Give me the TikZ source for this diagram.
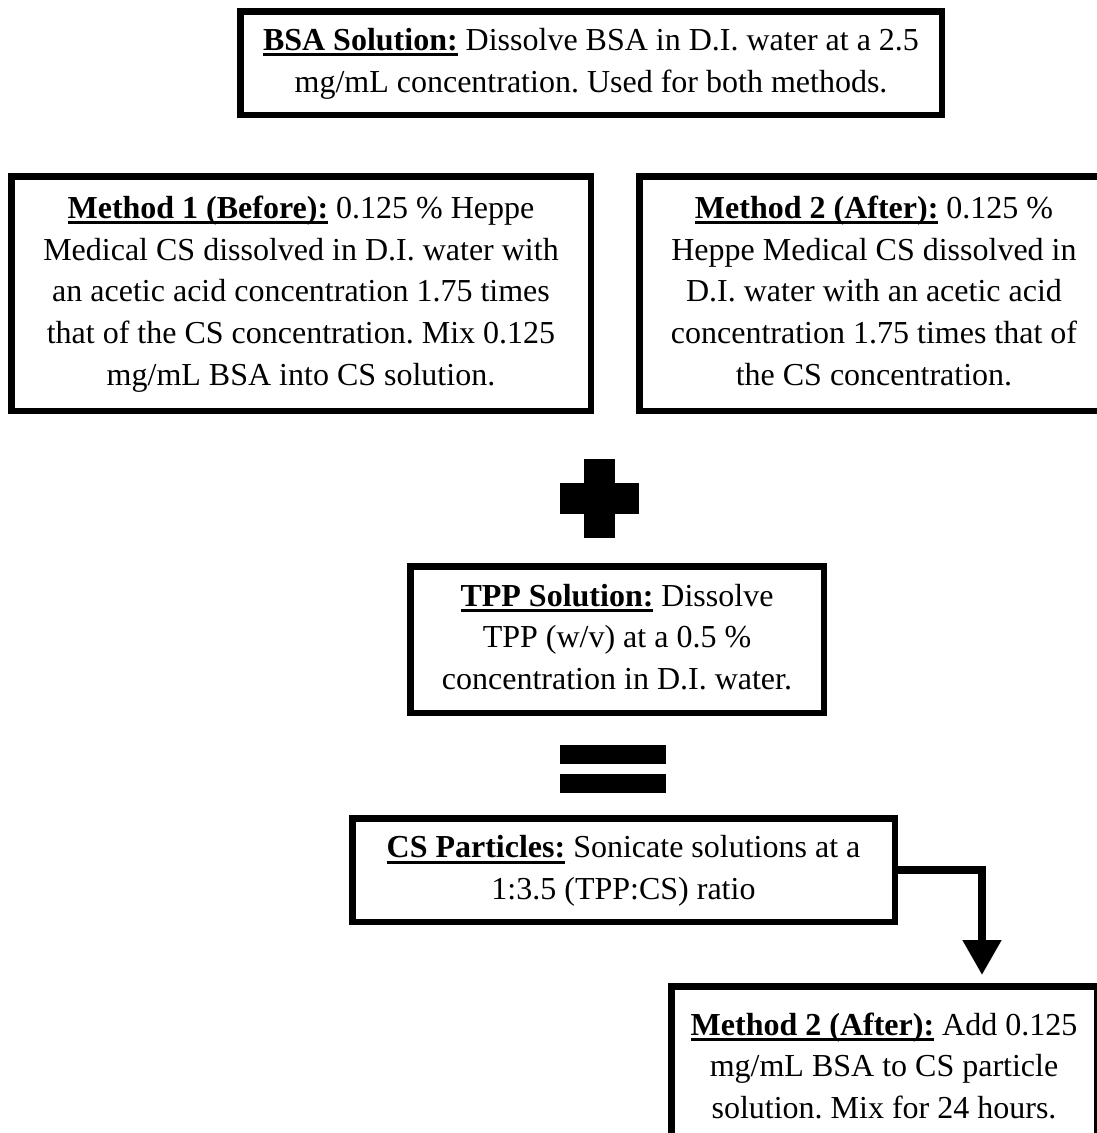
\documentclass[tikz,border=0pt]{standalone}
\usepackage{fontspec}
\setmainfont{Liberation Serif}
\usetikzlibrary{arrows.meta}
\frenchspacing
\newcommand{\lbl}[1]{\strut\setbox0\hbox{\bfseries #1}\rlap{\rule[-6pt]{\wd0}{3pt}}\box0\relax}
\tikzset{
  boxstyle/.style={draw=black, line width=6.5pt, fill=white, align=center, inner sep=0pt,
    font=\fontsize{32}{41.7}\selectfont},
  symbar/.style={fill=black},
  flowarrow/.style={line width=8pt, -{Triangle[width=37pt,length=35pt]}}
}
\begin{document}
\begin{tikzpicture}[x=1pt,y=-1pt]
\useasboundingbox (0,0) rectangle (1097,1133);
\fill[white] (0,0) rectangle (1097,1133);

\node[boxstyle, minimum width=701.5pt, minimum height=103.5pt] (bsa) at (591,63)
  {\lbl{BSA Solution:} Dissolve BSA in D.I. water at a 2.5\\ mg/mL concentration. Used for both methods.\strut};

\node[boxstyle, minimum width=579.5pt, minimum height=234.5pt] (m1) at (301,293.5)
  {\lbl{Method 1 (Before):} 0.125 \% Heppe\\ Medical CS dissolved in D.I. water with\\ an acetic acid concentration 1.75 times\\ that of the CS concentration. Mix 0.125\\ mg/mL BSA into CS solution.\strut};

\node[boxstyle, minimum width=469.5pt, minimum height=234.5pt] (m2) at (874,293.5)
  {\lbl{Method 2 (After):} 0.125 \%\\ Heppe Medical CS dissolved in\\ D.I. water with an acetic acid\\ concentration 1.75 times that of\\ the CS concentration.\strut};

% plus sign
\fill[symbar] (584,459) rectangle (615,538);
\fill[symbar] (560,483) rectangle (639,514);

\node[boxstyle, minimum width=413.5pt, minimum height=146.5pt] (tpp) at (617,639.5)
  {\lbl{TPP Solution:} Dissolve\\ TPP (w/v) at a 0.5 \%\\ concentration in D.I. water.\strut};

% equals sign
\fill[symbar] (560,745) rectangle (666,764);
\fill[symbar] (560,774) rectangle (666,793);

\node[boxstyle, minimum width=542.5pt, minimum height=103.5pt] (cs) at (623.5,870)
  {\lbl{CS Particles:} Sonicate solutions at a\\ 1:3.5 (TPP:CS) ratio\strut};

\node[boxstyle, minimum width=425.5pt, minimum height=164.3pt] (fin) at (884,1068.4)
  {\lbl{Method 2 (After):} Add 0.125\\ mg/mL BSA to CS particle\\ solution. Mix for 24 hours.\strut};

\coordinate (arrtip) at (982,975);
\draw[flowarrow] (cs.east) -| (arrtip);
\end{tikzpicture}
\end{document}
